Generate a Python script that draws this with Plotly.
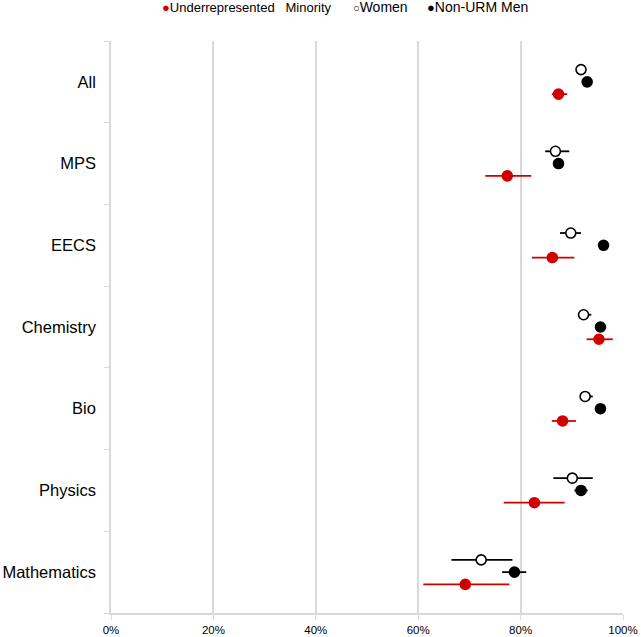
import plotly.graph_objects as go

categories = ["All", "MPS", "EECS", "Chemistry", "Bio", "Physics", "Mathematics"]

urm_val = [87.4, 77.4, 86.2, 95.3, 88.2, 82.7, 69.2]
urm_lo = [86.1, 73.1, 82.2, 92.9, 86.1, 76.7, 61.0]
urm_hi = [89.1, 82.1, 90.5, 98.0, 90.8, 88.6, 77.8]

women_val = [91.8, 86.8, 89.8, 92.3, 92.6, 90.1, 72.3]
women_lo = [91.0, 84.8, 87.7, 91.5, 91.8, 86.4, 66.5]
women_hi = [92.6, 89.5, 91.8, 93.8, 94.1, 94.1, 78.4]

men_val = [93.0, 87.4, 96.2, 95.6, 95.6, 91.8, 78.8]
men_lo = [92.5, 86.8, 95.7, 95.1, 95.1, 90.5, 76.4]
men_hi = [93.5, 88.0, 96.7, 96.1, 96.1, 93.1, 81.1]

x_ticks = [0, 20, 40, 60, 80, 100]
x_ticktext = ["0%", "20%", "40%", "60%", "80%", "100%"]

RED = "#d10000"
BLACK = "#000000"
GRID = "#d9d9d9"

idx = list(range(len(categories)))


def errs(v, lo, hi):
    return [h - x for x, h in zip(v, hi)], [x - l for x, l in zip(v, lo)]


fig = go.Figure()

series = [
    ("Underrepresented  Minority", urm_val, urm_lo, urm_hi, 0.15, RED, RED, RED),
    ("Women", women_val, women_lo, women_hi, -0.15, "white", BLACK, BLACK),
    ("Non-URM Men", men_val, men_lo, men_hi, 0.0, BLACK, BLACK, BLACK),
]

for name, v, lo, hi, off, fill, lc, ec in series:
    plus, minus = errs(v, lo, hi)
    fig.add_trace(go.Scatter(
        x=v, y=[i + off for i in idx], mode="markers", showlegend=False,
        marker=dict(size=10, color=fill, line=dict(color=lc, width=1.6)),
        error_x=dict(type="data", array=plus, arrayminus=minus, symmetric=False,
                     color=ec, thickness=1.8, width=0),
        name=name,
    ))

# Legend drawn as text (marker glyph immediately followed by the label)
L, R, T, B = 111, 18, 41, 24
PW = 641 - L - R
PH = 637 - T - B
legend_items = [
    (160, 13, "<span style='color:%s;font-size:13px'>●</span>Underrepresented\u00a0\u00a0 Minority" % RED),
    (351, 14, "<span style='font-size:11px'>○</span>Women"),
    (425, 14, "<span style='font-size:13px'>●</span>Non-URM Men"),
]
for px, fs, txt in legend_items:
    fig.add_annotation(
        x=(px - L) / PW, y=1 + (T - 7) / PH, xref="paper", yref="paper",
        xanchor="left", yanchor="middle", showarrow=False, text=txt,
        font=dict(size=fs, color="black", family="Liberation Sans, Arial"),
    )

fig.update_layout(
    width=641, height=637,
    margin=dict(l=L, r=R, t=T, b=B),
    paper_bgcolor="white", plot_bgcolor="white",
    font=dict(family="Liberation Sans, Arial", color="black", size=12),
    showlegend=False,
    xaxis=dict(range=[0, 100], tickmode="array", tickvals=x_ticks, ticktext=x_ticktext,
               showgrid=True, gridcolor=GRID, gridwidth=1.5, zeroline=False,
               showline=True, linecolor=GRID, linewidth=1.5,
               ticks="outside", ticklen=5, tickcolor=GRID,
               tickfont=dict(size=11.5), automargin=False),
    yaxis=dict(range=[6.5, -0.5], tickmode="array", tickvals=idx, ticktext=categories,
               showgrid=False, zeroline=False, showline=True, linecolor=GRID, linewidth=1.5,
               ticks="outside", ticklen=10, tickcolor="rgba(0,0,0,0)",
               tickfont=dict(size=16.5), automargin=False,
               minor=dict(tickmode="array", tickvals=[i - 0.5 for i in range(8)],
                          ticks="outside", ticklen=5, tickcolor=GRID, showgrid=False)),
)

fig.write_html("out.html", config={"displayModeBar": False},
               post_script="document.body.style.margin='0px';document.body.style.overflow='hidden';")
